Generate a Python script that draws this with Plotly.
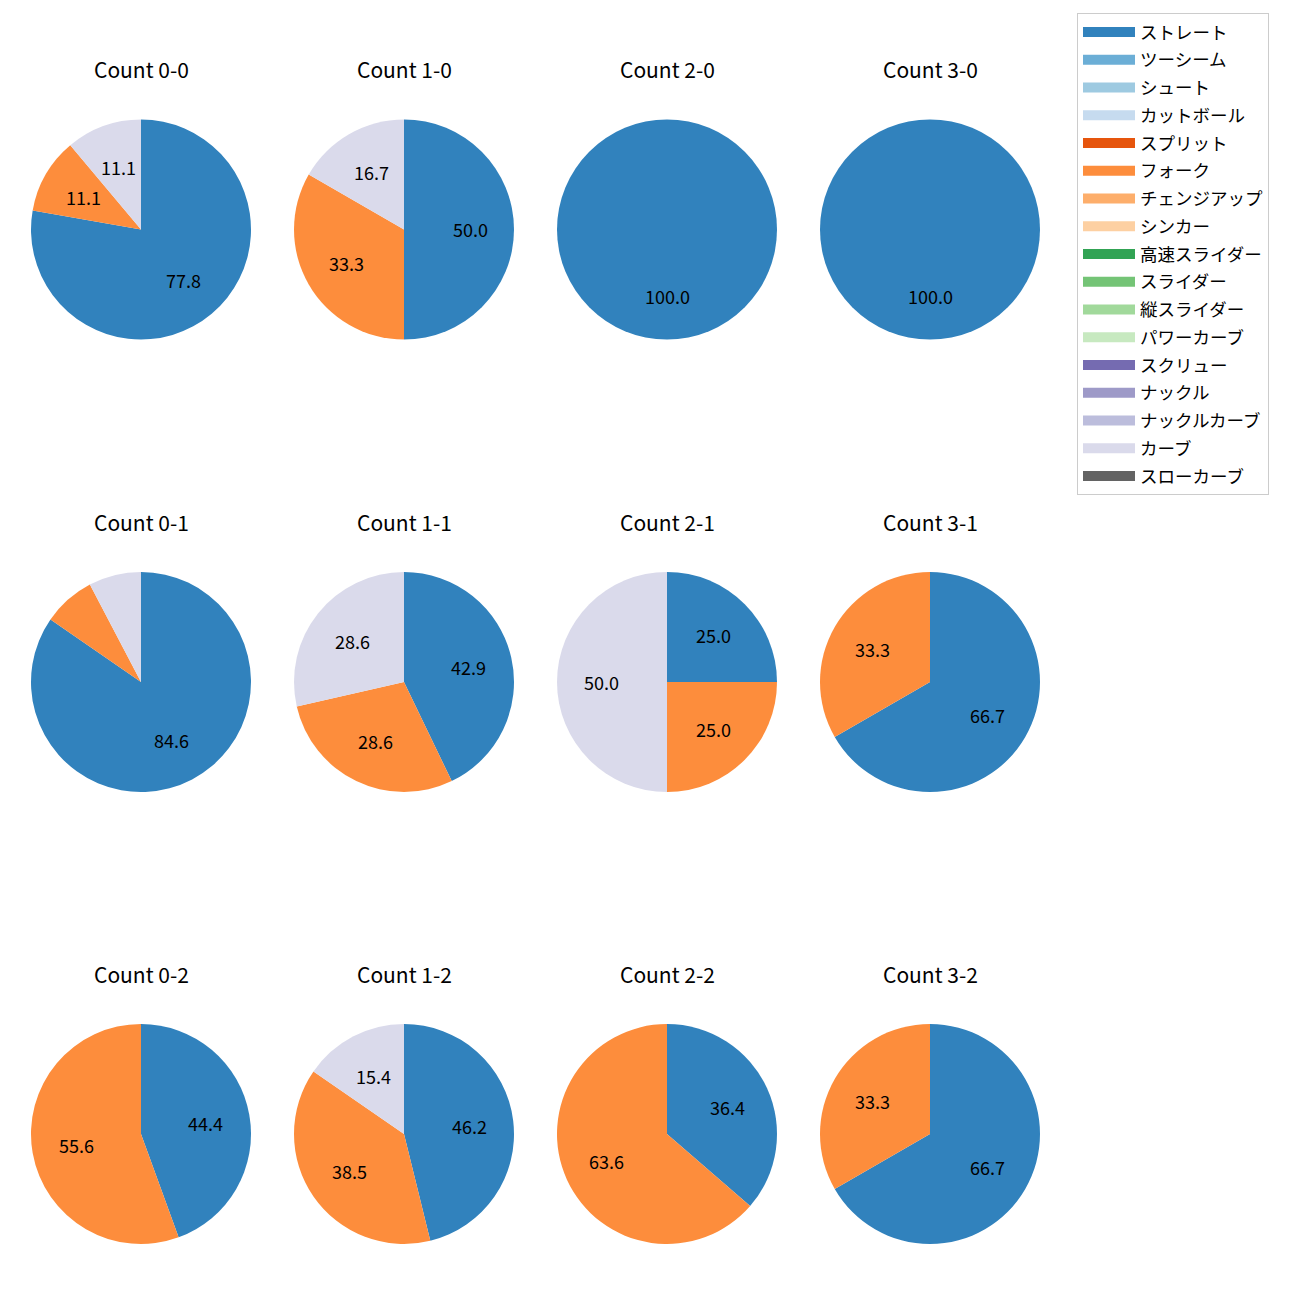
import math
import plotly.graph_objects as go

# ---- data ----
pitch_types = ["ストレート", "ツーシーム", "シュート", "カットボール", "スプリット", "フォーク",
               "チェンジアップ", "シンカー", "高速スライダー", "スライダー", "縦スライダー",
               "パワーカーブ", "スクリュー", "ナックル", "ナックルカーブ", "カーブ", "スローカーブ"]
colors = ["#3182bd", "#6baed6", "#9ecae1", "#c6dbef", "#e6550d", "#fd8d3c", "#fdae6b", "#fdd0a2",
          "#31a354", "#74c476", "#a1d99b", "#c7e9c0", "#756bb1", "#9e9ac8", "#bcbddc", "#dadaeb",
          "#636363"]

counts = ["0-0", "1-0", "2-0", "3-0",
          "0-1", "1-1", "2-1", "3-1",
          "0-2", "1-2", "2-2", "3-2"]
straight = [7, 3, 1, 1, 11, 3, 1, 2, 4, 6, 4, 2]
fork     = [1, 2, 0, 0, 1, 2, 1, 1, 5, 5, 7, 1]
curve    = [1, 1, 0, 0, 1, 2, 2, 0, 0, 2, 0, 0]

# ---- layout (screen pixels of the page; page body has an 8px offset) ----
W = H = 1300
OFF = 8
col_cx = [141, 404, 667, 930]
row_cy = [229.5, 682, 1134]
R = 110
title_off = 160.5
FONT = "Noto Sans CJK JP"


def px(x):
    return (x - OFF) / W


def py(y):
    return 1 - (y - OFF) / H


fig = go.Figure()
annotations = []

for idx, cnt in enumerate(counts):
    r, c = divmod(idx, 4)
    cx, cy = col_cx[c], row_cy[r]
    labels = ["ストレート", "フォーク", "カーブ"]
    vals = [straight[idx], fork[idx], curve[idx]]
    cols = [colors[pitch_types.index(l)] for l in labels]
    fig.add_trace(go.Pie(
        labels=labels, values=vals, sort=False, direction="clockwise", rotation=0,
        marker=dict(colors=cols, line=dict(width=0)), textinfo="none", hoverinfo="label+percent",
        showlegend=False,
        domain=dict(x=[px(cx - R), px(cx + R)], y=[py(cy + R), py(cy - R)]),
    ))
    total = sum(vals)
    cum = 0
    for v in vals:
        if v == 0:
            continue
        frac = v / total
        theta = math.radians(90 - 360 * (cum + frac / 2))
        cum += frac
        pct = 100 * frac
        if pct < 10:
            continue
        annotations.append(dict(
            x=px(cx + 0.6 * R * math.cos(theta)), y=py(cy - 0.6 * R * math.sin(theta)),
            xref="paper", yref="paper", text=f"{pct:.1f}", showarrow=False,
            xanchor="center", yanchor="middle", font=dict(size=18, color="#000", family=FONT)))
    annotations.append(dict(
        x=px(cx), y=py(cy - title_off), xref="paper", yref="paper", text=f"Count {cnt}",
        showarrow=False, xanchor="center", yanchor="middle",
        font=dict(size=21, color="#000", family=FONT)))

# legend entries (one per pitch type)
for name, col in zip(pitch_types, colors):
    fig.add_trace(go.Scatter(
        x=[None], y=[None], mode="lines", name=name, legendgroup=name,
        line=dict(color=col, width=13), hoverinfo="skip", showlegend=True))

fig.update_layout(
    width=W, height=H, margin=dict(l=0, r=0, t=0, b=0),
    paper_bgcolor="white", plot_bgcolor="white",
    font=dict(family=FONT, color="#000"),
    xaxis=dict(visible=False), yaxis=dict(visible=False),
    annotations=annotations,
    legend=dict(x=px(1077), y=py(13), xanchor="left", yanchor="top",
                bgcolor="white", bordercolor="#cccccc", borderwidth=1,
                font=dict(size=17.5, family=FONT, color="#000"),
                tracegroupgap=2, itemwidth=52),
)

fig.write_html("out.html")
